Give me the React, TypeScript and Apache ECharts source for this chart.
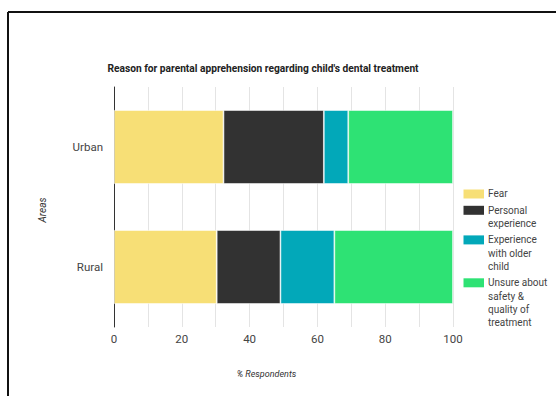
import React, { useEffect, useRef } from "react";
import * as echarts from "echarts";

const categories = ["Urban", "Rural"];
const seriesNames = ["Fear", "Personal experience", "Experience with older child", "Unsure about safety & quality of treatment"];
const legendLabels = ["Fear", "Personal\nexperience", "Experience\nwith older\nchild", "Unsure about\nsafety &\nquality of\ntreatment"];
const fear = [32.3, 30.3];
const personal = [29.6, 18.8];
const olderChild = [7.2, 15.9];
const unsure = [30.9, 35.0];
const xTicks = [0, 20, 40, 60, 80, 100];

const colors = ["#F7DF76", "#323232", "#02A8B9", "#2EE274"];
const FONT = "Roboto, 'Noto Sans', sans-serif";

export default function App() {
  const ref = useRef<HTMLDivElement>(null);
  useEffect(() => {
    if (!ref.current) return;
    const chart = echarts.init(ref.current, undefined, { renderer: "svg" });
    const values = [fear, personal, olderChild, unsure];

    // legend drawn manually so icons align with first text line
    const lineH = 13.3;
    const legendGap = 3;
    const legendElems: any[] = [];
    let cy = 194;
    legendLabels.forEach((lab, i) => {
      const n = lab.split("\n").length;
      legendElems.push({
        type: "rect",
        shape: { x: 463.5, y: cy - 4.5, width: 20.5, height: 9 },
        style: { fill: colors[i] },
      });
      legendElems.push({
        type: "text",
        x: 488,
        y: cy - lineH / 2,
        style: {
          text: lab,
          fontSize: 10,
          fontFamily: FONT,
          fill: "#444",
          lineHeight: lineH,
          verticalAlign: "top",
          align: "left",
        },
      });
      cy += n * lineH + legendGap;
    });

    chart.setOption({
      animation: false,
      backgroundColor: "#fff",
      title: {
        text: "Reason for parental apprehension regarding child's dental treatment",
        left: 258,
        top: 58,
        textAlign: "center",
        textStyle: { fontSize: 10.2, fontWeight: "bold", fontFamily: FONT, color: "#222" },
      },
      grid: { left: 114, right: 103, top: 87, bottom: 69, containLabel: false },
      xAxis: {
        type: "value",
        min: 0,
        max: 100,
        interval: 10,
        name: "% Respondents",
        nameLocation: "middle",
        nameGap: 42,
        nameTextStyle: { fontSize: 9, fontStyle: "italic", fontFamily: FONT, color: "#333", padding: [0, 34, 0, 0] },
        axisLine: { show: false },
        axisTick: { show: false },
        axisLabel: {
          fontSize: 11.5,
          fontFamily: FONT,
          color: "#444",
          margin: 6,
          formatter: (v: number) => (xTicks.includes(v) ? String(v) : ""),
        },
        splitLine: { show: true, lineStyle: { color: "#e4e4e4", width: 1 } },
      },
      yAxis: {
        type: "category",
        data: categories,
        inverse: true,
        name: "Areas",
        nameLocation: "middle",
        nameGap: 67,
        nameRotate: 90,
        nameTextStyle: { fontSize: 10, fontStyle: "italic", fontFamily: FONT, color: "#333", padding: [0, 6, 0, 0] },
        axisLine: { show: true, lineStyle: { color: "#333", width: 1 } },
        axisTick: { show: false },
        axisLabel: { fontSize: 11.5, fontFamily: FONT, color: "#444", margin: 11 },
        splitLine: { show: false },
      },
      series: seriesNames.map((name, i) => ({
        name,
        type: "bar",
        stack: "total",
        barWidth: 74,
        data: values[i],
        itemStyle: { color: colors[i], borderColor: "rgba(255,255,255,0.7)", borderWidth: 0.8 },
      })),
      graphic: [
        {
          type: "line",
          shape: { x1: 8, y1: 12, x2: 556, y2: 12 },
          style: { stroke: "#111", lineWidth: 2 },
        },
        {
          type: "line",
          shape: { x1: 8, y1: 12, x2: 8, y2: 396 },
          style: { stroke: "#111", lineWidth: 2 },
        },
        ...legendElems,
      ],
    });
    return () => chart.dispose();
  }, []);
  return <div ref={ref} style={{ width: 556, height: 396, position: "absolute", left: 0, top: 0 }} />;
}
